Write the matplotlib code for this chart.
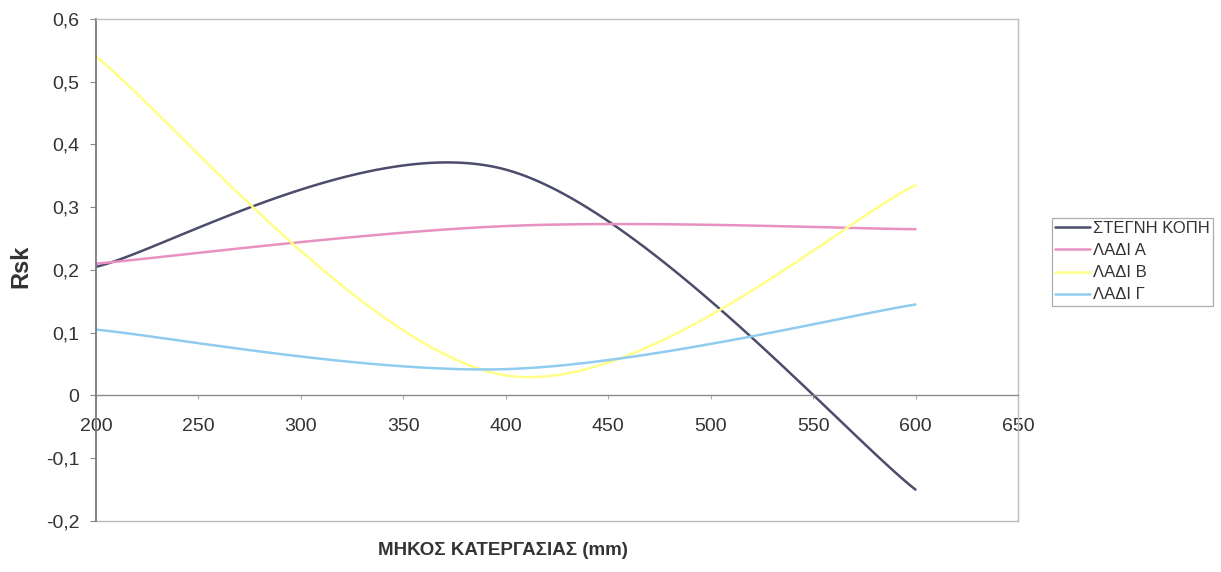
import numpy as np
import matplotlib
matplotlib.use("Agg")
import matplotlib.pyplot as plt

plt.rcParams['font.family'] = ['Liberation Sans', 'DejaVu Sans']

x_vals = [200, 400, 600]
series_names = ["ΣΤΕΓΝΗ ΚΟΠΗ", "ΛΑΔΙ Α", "ΛΑΔΙ Β", "ΛΑΔΙ Γ"]
stegni = [0.205, 0.36, -0.15]
ladi_a = [0.21, 0.27, 0.265]
ladi_b = [0.54, 0.032, 0.335]
ladi_g = [0.105, 0.042, 0.145]
colors = ["#4c4c6c", "#e890c0", "#ffff88", "#90ccf0"]
y_ticks = [-0.2, -0.1, 0, 0.1, 0.2, 0.3, 0.4, 0.5, 0.6]
x_ticks = [200, 250, 300, 350, 400, 450, 500, 550, 600, 650]


def smooth(xs, ys, n=60):
    """Excel-style smoothed line (cubic Bezier through the data points)."""
    P = np.column_stack([xs, ys]).astype(float)
    m = len(P)
    tang = []
    for i in range(m):
        a = P[max(i - 1, 0)]
        b = P[min(i + 1, m - 1)]
        tang.append((b - a) / 6.0)
    out = []
    t = np.linspace(0, 1, n)[:, None]
    for i in range(m - 1):
        p0, p3 = P[i], P[i + 1]
        p1 = p0 + tang[i]
        p2 = p3 - tang[i + 1]
        seg = ((1 - t) ** 3) * p0 + 3 * ((1 - t) ** 2) * t * p1 + 3 * (1 - t) * t ** 2 * p2 + t ** 3 * p3
        out.append(seg if i == 0 else seg[1:])
    c = np.vstack(out)
    return c[:, 0], c[:, 1]


fig = plt.figure(figsize=(12.21, 5.72), dpi=100)
ax = fig.add_axes([0.0786, 0.0892, 0.7551, 0.8776])

for name, vals, col in zip(series_names, [stegni, ladi_a, ladi_b, ladi_g], colors):
    sx, sy = smooth(x_vals, vals)
    ax.plot(sx, sy, color=col, lw=1.8, label=name, solid_capstyle='round')

ax.set_xlim(200, 650)
ax.set_ylim(-0.2, 0.6)

# plot-area frame
for s in ['top', 'right']:
    ax.spines[s].set_color('#c0c0c0')
    ax.spines[s].set_linewidth(1.0)
ax.spines['left'].set_color('#7a7a7a')
ax.spines['left'].set_linewidth(1.3)
ax.spines['bottom'].set_position(('data', 0))
ax.spines['bottom'].set_color('#8a8a8a')
ax.spines['bottom'].set_linewidth(1.0)
ax.plot([0, 1], [0, 0], transform=ax.transAxes, color='#b8b8b8', lw=1.0, clip_on=False)

ax.set_yticks(y_ticks)
ax.set_yticklabels([("0" if v == 0 else f"{v:.1f}".replace(".", ",")) for v in y_ticks])
ax.set_xticks(x_ticks)
ax.set_xticklabels([str(v) for v in x_ticks])
ax.tick_params(axis='y', direction='out', length=4, color='#8a8a8a', labelsize=14,
               labelcolor='#333333', pad=8)
ax.tick_params(axis='x', direction='out', length=3, color='#aaaaaa', labelsize=14,
               labelcolor='#333333', pad=13)

fig.text(21 / 1221, 1 - 266 / 572, "Rsk", fontsize=17, fontweight='bold', color='#333333',
         rotation=90, ha='center', va='center')
fig.text(0.412, 0.038, "ΜΗΚΟΣ ΚΑΤΕΡΓΑΣΙΑΣ (mm)", fontsize=13.5, fontweight='bold',
         color='#333333', ha='center', va='center')

leg = fig.legend(loc='upper left', bbox_to_anchor=(1052 / 1221, 1 - 218 / 572), fontsize=12,
                 frameon=True, fancybox=False, handlelength=2.1, handletextpad=0.15,
                 borderpad=0.2, labelspacing=0.42, borderaxespad=0)
leg.get_frame().set_edgecolor('#999999')
leg.get_frame().set_linewidth(0.9)
for t in leg.get_texts():
    t.set_color('#333333')

fig.savefig("out.png", dpi=100, facecolor='white')
